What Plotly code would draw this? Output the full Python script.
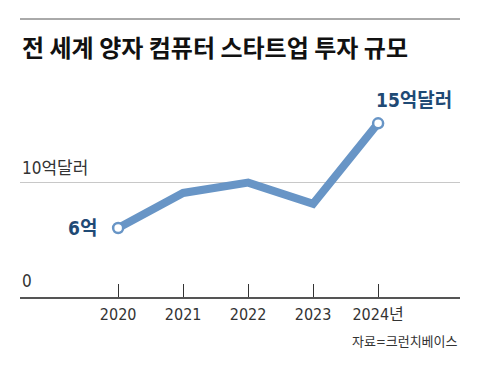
import plotly.graph_objects as go

years = [2020, 2021, 2022, 2023, 2024]
values = [6, 9.05, 9.95, 8.1, 15.1]
tick_labels = ["2020", "2021", "2022", "2023", "2024년"]
title = "전 세계 양자 컴퓨터 스타트업 투자 규모"
source = "자료=크런치베이스"

NARROW = "DejaVu Sans Condensed, Liberation Sans Narrow, Noto Sans CJK KR, sans-serif"
KR = "Noto Sans CJK KR, sans-serif"
LINE = "#6895c6"
DARK = "#1f4a75"

PH = 227  # plot height in px

fig = go.Figure()
fig.add_trace(go.Scatter(x=years, y=values, mode="lines",
                         line=dict(color=LINE, width=8), hoverinfo="skip"))
fig.add_trace(go.Scatter(x=[years[0], years[-1]], y=[values[0], values[-1]], mode="markers",
                         marker=dict(color="white", size=10, line=dict(color=LINE, width=2.5)),
                         hoverinfo="skip"))

fig.update_layout(
    width=472, height=362,
    margin=dict(l=12, r=20, t=62, b=73),
    paper_bgcolor="white", plot_bgcolor="white",
    showlegend=False,
    xaxis=dict(range=[2018.49, 2025.26], tickvals=years, ticktext=tick_labels,
               ticks="inside", ticklen=13, tickcolor="#333", tickwidth=1,
               showline=True, linecolor="#555", linewidth=1.5,
               showgrid=False, zeroline=False, fixedrange=True,
               ticklabelstandoff=2,
               tickfont=dict(family=NARROW, size=16, color="#333")),
    yaxis=dict(range=[0, 19.74], tickvals=[10], showticklabels=False,
               showgrid=True, gridcolor="#c8c8c8", gridwidth=1,
               zeroline=False, showline=False, fixedrange=True),
)

fig.add_shape(type="line", xref="paper", yref="paper", x0=0, x1=1, y0=1 + 51/PH, y1=1 + 51/PH,
              line=dict(color="#555", width=1))

fig.add_annotation(text="<b>" + title + "</b>", xref="paper", yref="paper",
                   x=0, y=1 + 24/PH, xanchor="left", yanchor="middle", showarrow=False,
                   font=dict(family=KR, size=24, color="#111"))
fig.add_annotation(text="10억달러", xref="paper", yref="y", x=0, y=10, xanchor="left",
                   yanchor="bottom", yshift=2, showarrow=False,
                   font=dict(family=NARROW, size=17, color="#333"))
fig.add_annotation(text="0", xref="paper", yref="y", x=0, y=0, xanchor="left",
                   yanchor="bottom", yshift=4, showarrow=False,
                   font=dict(family=NARROW, size=17, color="#333"))
fig.add_annotation(text="<b>6억</b>", x=years[0], y=values[0], xanchor="right", yanchor="middle",
                   xshift=-19, showarrow=False,
                   font=dict(family=NARROW, size=19, color=DARK))
fig.add_annotation(text="<b>15억달러</b>", x=years[-1], y=values[-1], xanchor="left", yanchor="bottom",
                   xshift=-4, yshift=10, showarrow=False,
                   font=dict(family=NARROW, size=19, color=DARK))
fig.add_annotation(text=source, xref="paper", yref="paper", x=1, y=-44/PH, xanchor="right",
                   yanchor="middle", showarrow=False,
                   font=dict(family=NARROW, size=13, color="#333"))

fig.write_html("out.html")
